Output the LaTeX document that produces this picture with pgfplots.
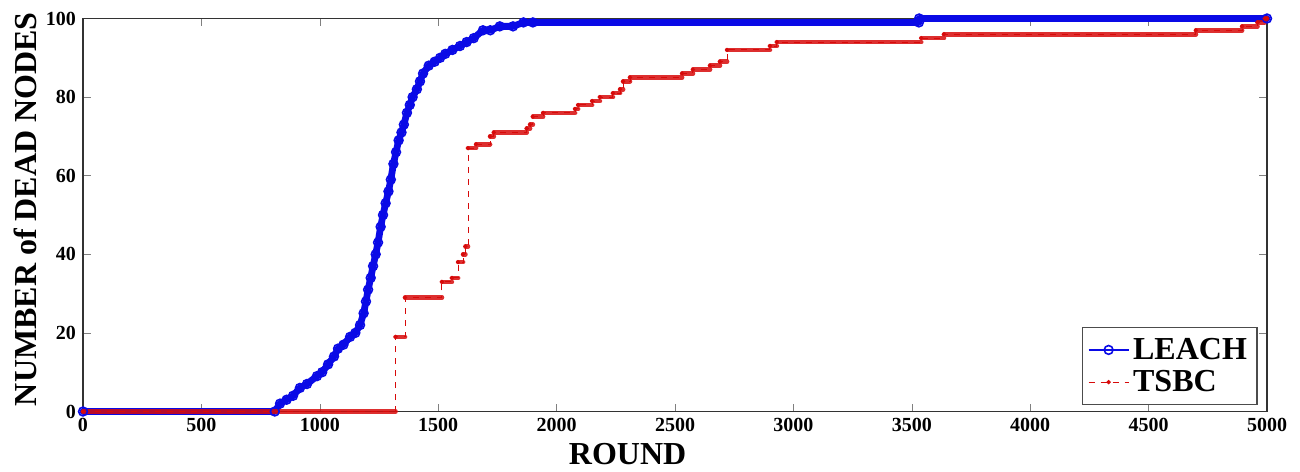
\documentclass[border=0pt]{standalone}
\usepackage{fontspec}
\setmainfont{Liberation Serif}
\usepackage{pgfplots}
\pgfplotsset{compat=1.18}

\definecolor{leach}{RGB}{10,10,230}
\definecolor{tsbc}{RGB}{215,10,10}

% dead nodes per round
\pgfplotstableread{
x y
0 0
810 0
832 2
860 3
887 4
916 6
946 7
988 9
1010 10
1035 12
1060 14
1077 16
1100 17
1128 19
1150 20
1170 22
1185 25
1195 28
1204 31
1215 34
1225 37
1236 40
1246 43
1257 47
1267 50
1278 53
1290 56
1300 59
1311 63
1322 66
1333 69
1345 71
1355 73
1368 76
1380 78
1392 80
1410 82
1423 84
1436 86
1460 88
1485 89
1508 90
1530 91
1560 92
1592 93
1620 94
1650 95
1689 97
1720 97
1760 98
1816 98
1860 99
1900 99
3530 99
3531 100
5000 100
}\leachdata

\pgfplotstableread{
x y
0 0
1320 19
1360 29
1516 33
1558 34
1584 38
1605 40
1615 42
1626 67
1660 68
1719 70
1735 71
1874 72
1888 73
1900 75
1943 76
2078 77
2091 78
2150 79
2183 80
2238 81
2268 82
2281 84
2310 85
2530 86
2576 87
2648 88
2690 89
2720 92
2901 93
2930 94
3540 95
3636 96
4700 97
4895 98
4960 99
4990 100
5000 100
}\tsbcdata

\begin{document}
\begin{tikzpicture}
\begin{axis}[
  scale only axis, width=592pt, height=196.5pt,
  xmin=0, xmax=5000, ymin=0, ymax=100,
  xtick={0,500,...,5000}, ytick={0,20,...,100},
  tick align=inside, xtick pos=both, ytick pos=both,
  major tick length=4pt,
  axis line style={black!80, line width=0.6pt},
  /pgf/number format/1000 sep={},
  /pgf/number format/assume math mode=true,
  tick label style={font=\fontsize{10}{12}\selectfont\bfseries},
  label style={font=\fontsize{16}{18}\selectfont\bfseries},
  xlabel={ROUND}, ylabel={NUMBER of DEAD NODES},
  xlabel style={at={(axis description cs:0.46,-0.108)}, anchor=center},
  ylabel style={at={(axis description cs:-0.049,0.515)}, anchor=center},
  clip=false,
  legend style={at={(0.992,0.017)}, anchor=south east,
    font=\fontsize{16}{17}\selectfont\bfseries,
    draw=black!70, line width=0.6pt, inner sep=3pt},
  legend cell align=left,
  legend image code/.code={
    \draw[mark repeat=2,mark phase=2] plot coordinates {(0cm,0cm) (0.35cm,0cm) (0.7cm,0cm)};},
]
% LEACH: dense markers make a thick band
\addplot[leach, line width=3.4pt, line join=round, line cap=round, forget plot]
  table[x=x, y=y] {\leachdata};
\addplot[leach, line width=0.6pt, mark=o, mark size=2.2pt,
  mark options={solid, line width=0.8pt}]
  table[x=x, y=y] {\leachdata};
\addlegendentry{LEACH}
% TSBC
\addplot[tsbc, opacity=0.85, line width=2.3pt, line cap=round, jump mark left, forget plot]
  table[x=x, y=y] {\tsbcdata};
\addplot[tsbc, line width=0.5pt, dashed, const plot, mark=*, mark size=0.8pt,
  mark options={solid}]
  table[x=x, y=y] {\tsbcdata};
\addlegendentry{TSBC}
\end{axis}
\pgfresetboundingbox
\path ([shift={(-41.5pt,-29.75pt)}]current axis.south west)
  rectangle ([shift={(16.5pt,9.25pt)}]current axis.north east);
\end{tikzpicture}
\end{document}
